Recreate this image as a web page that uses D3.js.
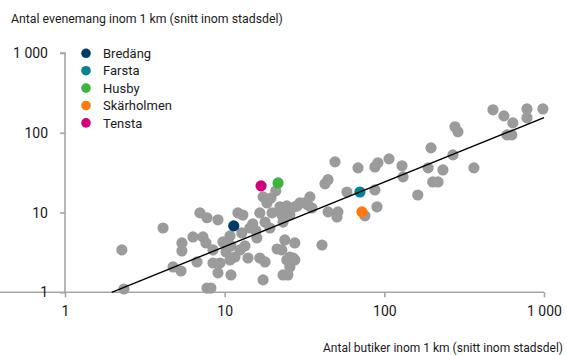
<!DOCTYPE html>
<html><head><meta charset="utf-8">
<script src="https://cdn.jsdelivr.net/npm/d3@7"></script>
<style>body{margin:0;background:#fff}svg{display:block}text{font-family:Roboto,"Liberation Sans",sans-serif;fill:#1a1a1a}</style>
</head><body><svg id="c" width="567" height="355"></svg>
<script>
const yTitle = "Antal evenemang inom 1 km (snitt inom stadsdel)";
const xTitle = "Antal butiker inom 1 km (snitt inom stadsdel)";
const tickValues = [1, 10, 100, 1000];
const tickLabels = ["1", "10", "100", "1 000"];
const grayX = [2.27,2.34,4.11,5.4,5.4,4.75,5.33,6.33,7.31,7.64,6.71,7.0,7.75,9.08,8.45,8.45,9.35,9.08,7.75,8.2,9.76,10.8,10.95,10.8,11.6,10.95,12.1,13.0,13.4,14.0,12.8,15.0,15.9,16.6,17.9,17.4,16.6,17.4,19.5,20.9,21.3,22.2,23.2,23.2,24.9,25.6,26.8,27.5,24.5,28.4,18.4,22.8,15.7,23.8,14.4,17.9,19.8,19.2,10.2,12.5,
  25.6,29.6,31.8,33.2,34.2,35.2,27.5,23.2,40.7,25.6,27.5,24.5,22.8,42.5,44.4,49.1,58.3,44.4,51.2,50.5,
  68.4,87.3,91.2,107,87.3,89.9,75.6,129,131,196,188,233,201,217,162,269,277,289,364,479,561,638,586,629,782,782,984];
const grayY = [3.4,1.1,6.4,4.16,3.3,2.08,1.85,4.94,4.94,4.16,2.4,9.9,8.6,8.1,3.4,2.33,2.33,1.75,1.13,1.13,4.28,5.09,3.81,2.54,2.77,1.65,9.9,9.3,3.81,2.69,5.55,7.2,4.8,2.69,2.4,1.43,9.9,15.7,15.2,18.7,3.49,11.8,7.6,1.65,1.65,2.08,2.69,4.16,12.1,12.1,13.2,9.3,5.88,4.53,6.4,7.6,9.9,6.4,3.2,3.4,
  9.3,13.2,13.2,12.4,15.7,11.4,11.8,10.2,3.92,2.77,2.54,2.54,3.4,22.9,25.8,43.2,18.1,10.2,10.2,8.8,
  36.3,37.3,42.0,47.1,19.2,11.8,9.1,38.5,28.0,64.6,36.3,34.2,24.2,24.2,16.6,52.8,119,103,36.3,194,163,133,94,94,199,154,199];
const districts = ["Bredäng", "Farsta", "Husby", "Skärholmen", "Tensta"];
const districtX = [11.4, 70.3, 21.6, 72.4, 16.9];
const districtY = [6.8, 18.1, 23.5, 10.2, 21.6];
const districtColors = ["#003a6b", "#00848f", "#3cb43c", "#ff7a0a", "#d4007a"];
const trendX = [1.96, 1000];
const trendY = [1, 155];

const svg = d3.select("#c");
const x = d3.scaleLog().domain([1, 1000]).range([65, 544]);
const y = d3.scaleLog().domain([1, 1000]).range([292.3, 53]);
const axisColor = "#a6a6a6";

const xa = svg.append("g").attr("transform", "translate(0,292.3)")
  .call(d3.axisBottom(x).tickValues(tickValues).tickFormat((d, i) => tickLabels[i]).tickSize(5).tickPadding(9));
const ya = svg.append("g").attr("transform", "translate(65,0)")
  .call(d3.axisLeft(y).tickValues(tickValues).tickFormat((d, i) => tickLabels[i]).tickSize(5).tickPadding(12));
[xa, ya].forEach(a => {
  a.select(".domain").attr("stroke", axisColor).attr("stroke-width", 1.6);
  a.selectAll(".tick line").attr("stroke", axisColor).attr("stroke-width", 1.6);
  a.selectAll(".tick text").attr("font-size", 14).attr("font-family", "Roboto,sans-serif").attr("fill", "#1a1a1a");
});
ya.select(".domain").attr("d", "M-5,53H0V292.3");
xa.select(".domain").attr("d", "M0,0H544");

const g = svg.append("g");
g.selectAll("circle.gray").data(grayX.map((v, i) => [v, grayY[i]])).join("circle")
  .attr("class", "gray").attr("cx", d => x(d[0])).attr("cy", d => y(d[1])).attr("r", 5.6).attr("fill", "#9b9b9b");

svg.append("path").attr("d", d3.line().x(d => x(d[0])).y(d => y(d[1]))(trendX.map((v, i) => [v, trendY[i]])))
  .attr("stroke", "#000").attr("stroke-width", 1.4).attr("fill", "none");

g.selectAll("circle.dist").data(districts.map((n, i) => i)).join("circle")
  .attr("class", "dist").attr("cx", i => x(districtX[i])).attr("cy", i => y(districtY[i])).attr("r", 5.6).attr("fill", i => districtColors[i]);

const leg = svg.append("g");
districts.forEach((n, i) => {
  const yy = 53.3 + i * 17.4;
  leg.append("circle").attr("cx", 86).attr("cy", yy).attr("r", 4.8).attr("fill", districtColors[i]);
  leg.append("text").attr("x", 103).attr("y", yy + 4.6).attr("font-size", 13).text(n);
});

svg.append("text").attr("x", 11).attr("y", 23).attr("font-size", 12.3).text(yTitle);
svg.append("text").attr("x", 563).attr("y", 352).attr("text-anchor", "end").attr("font-size", 12).text(xTitle);
</script></body></html>
